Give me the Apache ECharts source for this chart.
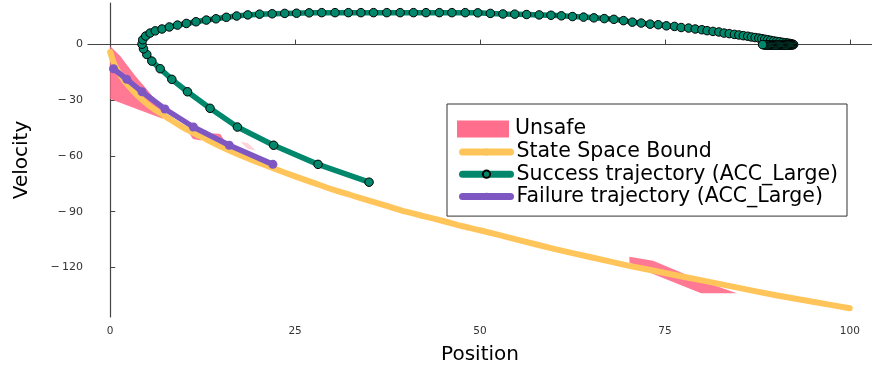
<!DOCTYPE html>
<html><head><meta charset="utf-8">
<script src="https://cdn.jsdelivr.net/npm/echarts@6/dist/echarts.min.js"></script>
<style>html,body{margin:0;padding:0;background:#fff}#c{width:872px;height:370px}</style>
</head><body><div id="c"></div>
<script>
const xTicks = [0, 25, 50, 75, 100];
const yTicks = [-120, -90, -60, -30, 0];

const boundPos = [0, 0.5, 1, 2, 3, 4, 5, 6, 8, 10, 12.5, 15, 17.5, 20, 22.5, 25, 27.5, 30, 32.5, 35, 37.5, 40, 42.5, 45, 47.5, 50, 55, 60, 65, 70, 75, 80, 85, 90, 95, 100];
const boundVel = [-4, -10, -14, -20, -24.5, -28.5, -32, -35, -40, -45, -50, -55, -59.4, -63.5, -67.3, -71, -74.5, -78, -81, -84, -87, -90, -92.5, -95, -97.7, -100, -105, -110, -114.5, -119, -123, -127, -131, -135, -138.5, -142];

const successPos = [35.0, 28.1, 22.1, 17.2, 13.5, 10.45, 8.33, 6.76, 5.63, 4.95, 4.5, 4.3, 4.4, 4.8, 5.4, 6.1, 7.0, 8.0, 9.1, 10.3, 11.6, 13.0, 14.3, 15.7, 17.1, 18.6, 20.2, 21.9, 23.6, 25.2, 26.9, 28.6, 30.4, 32.2, 33.9, 35.6, 37.4, 39.2, 41.0, 42.7, 44.5, 46.2, 48.0, 49.7, 51.4, 53.1, 54.7, 56.3, 58.0, 59.6, 61.0, 62.5, 64.0, 65.4, 66.8, 68.1, 69.4, 70.6, 71.8, 73.0, 74.1, 75.2, 76.3, 77.2, 78.2, 79.1, 80.0, 80.7, 81.5, 82.3, 83.0, 83.7, 84.4, 85.0, 85.6, 86.2, 86.7, 87.2, 87.7, 88.1, 88.5, 88.9, 89.3, 89.7, 90.1, 90.5, 90.9, 91.3, 91.6, 91.9, 92.1, 92.3, 92.4, 92.25, 92.1, 91.95, 91.8, 91.65, 91.5, 91.35, 91.2, 91.05, 90.9, 90.75, 90.6, 90.45, 90.3, 90.15, 90.0, 89.85, 89.7, 89.55, 89.4, 89.25, 89.1, 88.95, 88.8, 88.65, 88.5, 88.35, 88.2, 88.1];
const successVel = [-74.1, -64.5, -54.2, -44.4, -34.3, -25.4, -18.7, -13.0, -8.9, -5.3, -2.3, 0.2, 2.6, 4.6, 6.2, 7.4, 8.4, 9.5, 10.5, 11.4, 12.3, 13.2, 13.9, 14.7, 15.4, 16.0, 16.4, 16.6, 16.8, 16.9, 17.1, 17.2, 17.2, 17.2, 17.2, 17.2, 17.2, 17.2, 17.2, 17.2, 17.2, 17.2, 17.2, 17.1, 16.8, 16.5, 16.4, 16.2, 16.0, 15.8, 15.5, 15.1, 14.8, 14.4, 14.0, 13.6, 12.9, 12.1, 11.6, 11.0, 10.7, 10.1, 9.8, 9.2, 8.9, 8.4, 8.0, 7.5, 7.1, 6.8, 6.2, 5.9, 5.5, 5.2, 4.8, 4.5, 4.1, 3.8, 3.5, 3.2, 2.9, 2.6, 2.3, 2.0, 1.7, 1.5, 1.2, 1.0, 0.8, 0.6, 0.4, 0.2, 0.0, -0.2, -0.2, -0.3, -0.3, -0.3, -0.3, -0.3, -0.3, -0.3, -0.3, -0.3, -0.3, -0.3, -0.3, -0.3, -0.3, -0.3, -0.3, -0.3, -0.3, -0.3, -0.3, -0.3, -0.2, -0.2, -0.2, -0.1, 0.0];

const failurePos = [0.45, 2.25, 4.3, 7.4, 11.25, 16.1, 22.0];
const failureVel = [-13.0, -18.7, -25.4, -34.7, -44.4, -54.2, -64.5];

const unsafePolys = [
  [[0, -0.9], [1.35, -6.2], [3.4, -16.9], [4.95, -24], [6.76, -32.9], [7.1, -40], [0, -29.3]],
  [[10.5, -46.8], [11.6, -47.6], [12.3, -51.6], [11.2, -50.8]],
  [[13.8, -47.8], [14.9, -48.2], [15.4, -51.5], [14.4, -51.2]],
  [[70.2, -114.3], [73.4, -116.4], [79.3, -126.2], [84.7, -133.9], [79.9, -133.9], [73.4, -123.6], [70.2, -117.3]]
];
const unsafeFaintPolys = [
  [[17.6, -52.2], [18.6, -53.0], [19.7, -57.0], [18.6, -56.2]]
];

const FONT = 'DejaVu Sans';
const PINK = '#FF6E8C', YELLOW = '#FFC55A', TEAL = '#00876C', PURPLE = '#7E57C2';
const zip = (a, b) => a.map((v, i) => [v, b[i]]);
const tickLabel = v => v < 0 ? '\u2212\u2009' + Math.abs(v) : String(v);

function polyRender(polys, alpha) {
  return function (params, api) {
    const pts = polys[params.dataIndex].map(p => api.coord(p));
    return { type: 'polygon', shape: { points: pts }, style: { fill: PINK, opacity: alpha } };
  };
}

const chart = echarts.init(document.getElementById('c'), null, { renderer: 'canvas' });
chart.setOption({
  animation: false,
  backgroundColor: '#fff',
  grid: { left: 88, right: 0, top: 3, bottom: 50, containLabel: false },
  xAxis: {
    type: 'value', min: -3, max: 103,
    name: 'Position', nameLocation: 'middle', nameGap: 28,
    nameTextStyle: { fontFamily: FONT, fontSize: 20, color: '#000' },
    axisLine: { show: true, lineStyle: { color: '#444', width: 1.2 } },
    axisTick: { show: true, inside: true, length: 5, customValues: xTicks, lineStyle: { color: '#444' } },
    axisLabel: { customValues: xTicks, formatter: tickLabel, fontFamily: FONT, fontSize: 10.5, color: '#333', margin: 9 },
    splitLine: { show: false }
  },
  yAxis: {
    type: 'value', min: -146.7, max: 22.4,
    name: 'Velocity', nameLocation: 'middle', nameGap: 56,
    nameTextStyle: { fontFamily: FONT, fontSize: 20, color: '#000' },
    axisLine: { show: true, lineStyle: { color: '#444', width: 1.2 } },
    axisTick: { show: true, inside: true, length: 5, customValues: yTicks, lineStyle: { color: '#444' } },
    axisLabel: { customValues: yTicks, formatter: tickLabel, fontFamily: FONT, fontSize: 11, color: '#333', margin: 5 },
    splitLine: { show: false }
  },
  legend: [
    {
      data: ['State Space Bound', 'Success trajectory (ACC_Large)', 'Failure trajectory (ACC_Large)'],
      orient: 'vertical', left: 447, top: 104,
      padding: [37.5, 9, 9.2, 12],
      itemWidth: 48, itemHeight: 9, itemGap: 1.2,
      backgroundColor: '#fff', borderColor: '#333', borderWidth: 1, borderRadius: 0,
      lineStyle: { width: 7, cap: 'round' },
      textStyle: { fontFamily: FONT, fontSize: 20.5, color: '#000', padding: [0, 0, 0, 1] },
      selectedMode: false
    },
    {
      data: [{ name: 'Unsafe', icon: 'rect' }],
      orient: 'vertical', left: 457, top: 118.5, padding: 0,
      itemWidth: 52, itemHeight: 17,
      textStyle: { fontFamily: FONT, fontSize: 20.5, color: '#000', padding: [0, 0, 0, 1] },
      selectedMode: false
    }
  ],
  series: [
    {
      name: 'Unsafe', type: 'custom', color: PINK, itemStyle: { color: PINK },
      data: unsafePolys.map(p => p[0]), encode: { x: 0, y: 1 },
      renderItem: polyRender(unsafePolys, 0.92)
    },
    {
      name: 'Unsafe', type: 'custom', color: PINK, itemStyle: { color: PINK },
      data: unsafeFaintPolys.map(p => p[0]), encode: { x: 0, y: 1 },
      renderItem: polyRender(unsafeFaintPolys, 0.3)
    },
    {
      name: 'State Space Bound', type: 'line', data: zip(boundPos, boundVel),
      symbol: 'none', smooth: 0.2, color: YELLOW,
      lineStyle: { color: YELLOW, width: 6, cap: 'round', join: 'round' }
    },
    {
      name: 'Success trajectory (ACC_Large)', type: 'line', data: zip(successPos, successVel),
      symbol: 'circle', symbolSize: 8.5, showSymbol: true, color: TEAL,
      itemStyle: { color: TEAL, borderColor: '#000', borderWidth: 1 },
      lineStyle: { color: TEAL, width: 5.5, cap: 'round', join: 'round' }
    },
    {
      name: 'Failure trajectory (ACC_Large)', type: 'line', data: zip(failurePos, failureVel),
      symbol: 'circle', symbolSize: 9, showSymbol: true, color: PURPLE,
      itemStyle: { color: PURPLE, borderWidth: 0 },
      lineStyle: { color: PURPLE, width: 5.5, cap: 'round', join: 'round' }
    }
  ]
});
</script>
</body></html>
